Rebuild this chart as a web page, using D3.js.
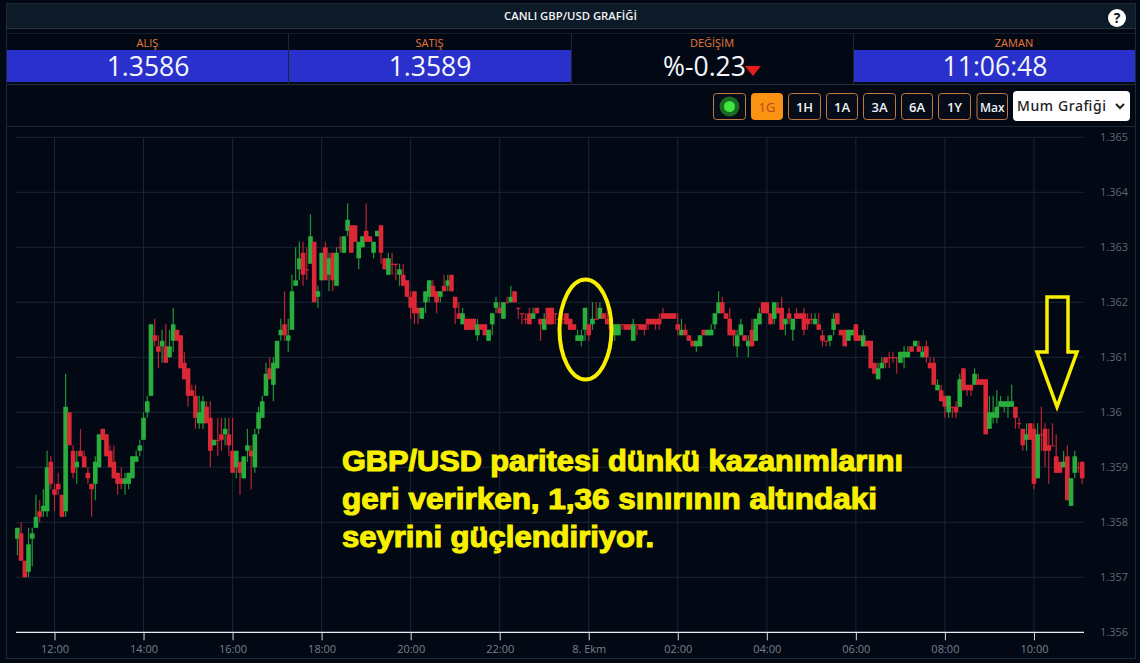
<!DOCTYPE html>
<html><head><meta charset="utf-8">
<script src="https://cdn.jsdelivr.net/npm/d3@7/dist/d3.min.js"></script>
<style>html,body{margin:0;padding:0;background:#020915;overflow:hidden}svg{display:block}</style>
</head><body><svg id="c" width="1140" height="663"></svg>
<script>
const opens=[1.3577,1.3578,1.3573,1.3571,1.3577,1.3579,1.3582,1.3582,1.3582,1.3591,
1.3586,1.3587,1.3585,1.3582,1.36,1.3593,1.359,1.3593,1.3592,1.3589,
1.3587,1.3587,1.359,1.3597,1.3596,1.3593,1.3591,1.3589,1.3588,1.3587,
1.3587,1.3588,1.3591,1.3593,1.3595,1.36,1.3603,1.3614,1.3612,1.3612,
1.3612,1.361,1.3613,1.3615,1.3614,1.3609,1.3608,1.3604,1.3603,1.3598,
1.3598,1.3601,1.3599,1.3594,1.3595,1.3596,1.3596,1.3596,1.3593,1.359,
1.3591,1.3588,1.3593,1.3593,1.359,1.3597,1.3599,1.3603,1.3608,1.3605,
1.3608,1.3614,1.3616,1.3613,1.3615,1.3623,1.3626,1.3629,1.3626,1.3627,
1.3631,1.3621,1.3624,1.363,1.3625,1.3629,1.3623,1.363,1.3629,1.3633,
1.3634,1.3634,1.3628,1.363,1.3633,1.3632,1.3629,1.3632,1.3634,1.3628,
1.3625,1.3627,1.3627,1.3625,1.3625,1.3624,1.3621,1.3622,1.3619,1.3617,
1.362,1.3621,1.3623,1.3622,1.3621,1.3623,1.3623,1.3625,1.3621,1.3618,
1.3616,1.3617,1.3617,1.3617,1.3614,1.3616,1.3616,1.3613,1.3616,1.3619,
1.3619,1.3617,1.362,1.362,1.3622,1.3619,1.3618,1.3617,1.3618,1.3617,
1.3619,1.3617,1.3615,1.3619,1.3619,1.3618,1.3617,1.3617,1.3618,1.3617,
1.3616,1.3613,1.3613,1.3615,1.3616,1.3616,1.3617,1.3617,1.3618,1.3617,
1.3616,1.3614,1.3614,1.3616,1.3616,1.3616,1.3613,1.3616,1.3616,1.3616,
1.3617,1.3617,1.3617,1.3617,1.3618,1.3618,1.3618,1.3618,1.3616,1.3614,
1.3615,1.3614,1.3613,1.3612,1.3612,1.3615,1.3614,1.3614,1.3616,1.3618,
1.362,1.3618,1.3617,1.3615,1.3612,1.3614,1.3614,1.3612,1.3615,1.3613,
1.3616,1.362,1.362,1.3618,1.3617,1.3619,1.3619,1.3616,1.3618,1.3615,
1.3618,1.3618,1.3618,1.3617,1.3617,1.3616,1.3616,1.3614,1.3613,1.3613,
1.3615,1.3618,1.3615,1.3615,1.3613,1.3614,1.3616,1.3614,1.3612,1.3613,
1.3613,1.3609,1.3606,1.3608,1.361,1.361,1.361,1.361,1.3609,1.361,
1.361,1.3612,1.3612,1.3612,1.361,1.3612,1.3609,1.3609,1.3604,1.3604,
1.3603,1.36,1.3601,1.3601,1.3601,1.3608,1.3605,1.3605,1.3605,1.3606,
1.3606,1.3606,1.3597,1.3599,1.3599,1.3601,1.3601,1.3601,1.3601,1.3601,
1.3598,1.3597,1.3595,1.3598,1.3597,1.3588,1.3596,1.3597,1.3594,1.3594,
1.3592,1.3591,1.359,1.3592,1.3583,1.3589,1.359,1.3591];
const closes=[1.3579,1.3573,1.357,1.3576,1.3578,1.3581,1.3581,1.3583,1.359,1.3587,
1.3585,1.3586,1.3581,1.3601,1.3594,1.3589,1.3591,1.3592,1.359,1.3588,
1.3586,1.3591,1.3596,1.3595,1.3592,1.359,1.3588,1.3587,1.3587,1.3588,
1.3589,1.3592,1.3592,1.3594,1.3599,1.3602,1.3616,1.3613,1.3611,1.3613,
1.3609,1.3612,1.3616,1.3613,1.3608,1.3606,1.3603,1.3603,1.3599,1.36,
1.3602,1.3598,1.3593,1.3595,1.3595,1.3595,1.3597,1.3594,1.3589,1.3593,
1.3589,1.3592,1.3594,1.3592,1.3596,1.36,1.3602,1.3607,1.3606,1.3609,
1.3613,1.3615,1.3614,1.3614,1.3622,1.3624,1.3628,1.3625,1.3626,1.3632,
1.362,1.3622,1.3629,1.3624,1.3628,1.3624,1.3629,1.363,1.3632,1.3635,
1.3629,1.3631,1.3631,1.3632,1.3631,1.3631,1.3631,1.3633,1.3629,1.3626,
1.3628,1.3627,1.3627,1.3626,1.3623,1.3621,1.3619,1.3618,1.3618,1.3619,
1.3622,1.3624,1.3621,1.362,1.3622,1.3622,1.3624,1.3622,1.3619,1.3617,
1.3618,1.3615,1.3615,1.3615,1.3616,1.3615,1.3614,1.3615,1.3618,1.362,
1.3618,1.362,1.362,1.3621,1.362,1.3619,1.3618,1.3617,1.3616,1.3618,
1.3618,1.3616,1.3617,1.3616,1.3616,1.3618,1.3617,1.3617,1.3616,1.3615,
1.3615,1.3614,1.3614,1.3619,1.3614,1.3617,1.3617,1.3619,1.3617,1.3616,
1.3615,1.3616,1.3616,1.3616,1.3615,1.3615,1.3616,1.3616,1.3615,1.3615,
1.3616,1.3616,1.3616,1.3616,1.3617,1.3617,1.3617,1.3617,1.3615,1.3615,
1.3614,1.3613,1.3612,1.3613,1.3614,1.3614,1.3615,1.3615,1.3618,1.362,
1.3618,1.3617,1.3614,1.3614,1.3614,1.3616,1.3613,1.3613,1.3612,1.3617,
1.3618,1.3618,1.3618,1.3616,1.362,1.3618,1.3615,1.3617,1.3617,1.3617,
1.3617,1.3617,1.3615,1.3616,1.3617,1.3617,1.3615,1.3613,1.3613,1.3614,
1.3617,1.3616,1.3614,1.3612,1.3615,1.3615,1.3613,1.3613,1.3614,1.3612,
1.3608,1.3607,1.3608,1.3609,1.3609,1.361,1.361,1.361,1.3611,1.3611,
1.3611,1.3611,1.3613,1.3611,1.3611,1.361,1.3608,1.3605,1.3605,1.3602,
1.3601,1.3603,1.3601,1.36,1.3606,1.3604,1.3604,1.3604,1.3607,1.3605,
1.3605,1.3596,1.36,1.36,1.3601,1.3602,1.3602,1.3602,1.3602,1.3599,
1.3598,1.3594,1.3596,1.3595,1.3587,1.3596,1.3596,1.3593,1.3593,1.3594,
1.3589,1.3589,1.3591,1.3584,1.3588,1.3592,1.359,1.3588];
const highs=[1.3579,1.358,1.3573,1.3579,1.3579,1.3585,1.3584,1.3586,1.3593,1.3592,
1.3587,1.3589,1.3585,1.3607,1.36,1.3594,1.3593,1.3597,1.3593,1.359,
1.3587,1.3592,1.3596,1.3597,1.3596,1.3594,1.3594,1.3589,1.359,1.3589,
1.3589,1.3592,1.3593,1.3595,1.36,1.3603,1.3616,1.3617,1.3614,1.3615,
1.3616,1.3615,1.3619,1.3615,1.3614,1.3611,1.3608,1.3605,1.3605,1.3603,
1.3603,1.3602,1.3602,1.3595,1.3599,1.3599,1.3599,1.3599,1.3599,1.3593,
1.3591,1.3592,1.3597,1.3594,1.3597,1.3601,1.3603,1.3609,1.361,1.361,
1.3613,1.3617,1.3622,1.3617,1.3625,1.363,1.3631,1.3631,1.363,1.3636,
1.3631,1.3623,1.3629,1.3631,1.3629,1.3629,1.363,1.3632,1.3632,1.3638,
1.3634,1.3634,1.3631,1.3632,1.3638,1.3632,1.3631,1.3633,1.3634,1.3628,
1.3629,1.3629,1.3627,1.3627,1.3627,1.3624,1.3622,1.3622,1.3619,1.3619,
1.3622,1.3624,1.3624,1.3622,1.3622,1.3625,1.3625,1.3625,1.3621,1.362,
1.3619,1.3617,1.3617,1.3617,1.3617,1.3616,1.3616,1.3615,1.3618,1.3621,
1.362,1.362,1.3621,1.3623,1.3622,1.3619,1.3618,1.3618,1.3619,1.3619,
1.3619,1.3617,1.3618,1.3619,1.3619,1.3618,1.3618,1.3618,1.3618,1.3617,
1.3616,1.3615,1.3615,1.3619,1.3616,1.362,1.362,1.362,1.3618,1.362,
1.3618,1.3616,1.3616,1.3616,1.3616,1.3616,1.3617,1.3616,1.3616,1.3616,
1.3617,1.3617,1.3617,1.3618,1.3619,1.3618,1.3618,1.3618,1.3618,1.3617,
1.3616,1.3614,1.3613,1.3613,1.3614,1.3615,1.3615,1.3616,1.3618,1.3622,
1.3621,1.3618,1.3619,1.3615,1.3615,1.3617,1.3614,1.3614,1.3617,1.3617,
1.3619,1.362,1.362,1.3618,1.362,1.362,1.3621,1.3617,1.3619,1.3617,
1.3619,1.3618,1.3619,1.3618,1.3618,1.3618,1.3618,1.3615,1.3613,1.3614,
1.3618,1.3618,1.3615,1.3615,1.3615,1.3615,1.3616,1.3614,1.3615,1.3613,
1.3613,1.3609,1.3609,1.361,1.361,1.3611,1.3611,1.361,1.3611,1.3612,
1.3612,1.3612,1.3613,1.3613,1.3612,1.3613,1.361,1.361,1.3606,1.3605,
1.3603,1.3603,1.3601,1.3602,1.3607,1.3608,1.3605,1.3605,1.3608,1.3607,
1.3606,1.3606,1.3603,1.3603,1.3604,1.3603,1.3602,1.3603,1.3605,1.3601,
1.3599,1.3597,1.3598,1.3598,1.3598,1.3598,1.3601,1.3598,1.3597,1.3598,
1.3596,1.3591,1.3593,1.3594,1.3588,1.3593,1.3591,1.3591];
const lows=[1.3574,1.3573,1.357,1.357,1.3572,1.3579,1.358,1.3581,1.3581,1.3586,
1.3582,1.3585,1.3581,1.3581,1.3594,1.3588,1.3587,1.3592,1.359,1.3587,
1.3581,1.3584,1.359,1.3595,1.3592,1.359,1.3588,1.3585,1.3586,1.3585,
1.3586,1.3588,1.3591,1.3592,1.3595,1.3599,1.3603,1.3612,1.3608,1.3609,
1.3609,1.361,1.3611,1.3613,1.3608,1.3606,1.3601,1.3603,1.3597,1.3597,
1.3597,1.3598,1.359,1.3594,1.3592,1.3593,1.3594,1.3592,1.3589,1.3588,
1.3585,1.3588,1.3591,1.3586,1.3589,1.3596,1.3599,1.3603,1.3606,1.3602,
1.3608,1.3613,1.3613,1.3611,1.3615,1.3623,1.3624,1.3623,1.3624,1.3627,
1.362,1.3619,1.3624,1.3624,1.3622,1.3622,1.3623,1.3629,1.3629,1.3632,
1.3629,1.3631,1.3626,1.363,1.3631,1.3631,1.3628,1.3632,1.3627,1.3626,
1.3625,1.3625,1.3624,1.3623,1.3623,1.3621,1.3617,1.3616,1.3616,1.3617,
1.3618,1.362,1.3621,1.3618,1.362,1.3622,1.3622,1.3622,1.3616,1.3617,
1.3616,1.3615,1.3615,1.3615,1.3613,1.3615,1.3614,1.3613,1.3614,1.3618,
1.3618,1.3617,1.362,1.362,1.362,1.3617,1.3616,1.3616,1.3616,1.3617,
1.3618,1.3613,1.3615,1.3616,1.3616,1.3616,1.3616,1.3616,1.3616,1.3615,
1.3615,1.3613,1.3612,1.3613,1.3613,1.3615,1.3617,1.3617,1.3617,1.3616,
1.3613,1.3613,1.3614,1.3615,1.3615,1.3615,1.3613,1.3614,1.3615,1.3614,
1.3615,1.3616,1.3615,1.3615,1.3617,1.3617,1.3617,1.3617,1.3614,1.3614,
1.3614,1.3613,1.3612,1.3611,1.3612,1.3614,1.3614,1.3614,1.3615,1.3618,
1.3618,1.3617,1.3614,1.3612,1.361,1.3614,1.3613,1.361,1.3612,1.3613,
1.3616,1.3618,1.3618,1.3616,1.3616,1.3618,1.3615,1.3614,1.3616,1.3613,
1.3617,1.3617,1.3614,1.3615,1.3616,1.3616,1.3615,1.3612,1.3612,1.3612,
1.3614,1.3616,1.3614,1.3612,1.3613,1.3614,1.3613,1.3613,1.3612,1.3612,
1.3608,1.3607,1.3606,1.3608,1.3608,1.3608,1.3609,1.3607,1.3609,1.3608,
1.361,1.3611,1.3612,1.3611,1.361,1.3609,1.3608,1.3605,1.3604,1.3602,
1.3599,1.3599,1.3599,1.3599,1.3601,1.3604,1.3603,1.3603,1.3605,1.3605,
1.3605,1.3596,1.3597,1.3598,1.3598,1.3601,1.36,1.3599,1.3601,1.3597,
1.3597,1.3593,1.3593,1.3595,1.3586,1.3588,1.3593,1.359,1.3587,1.3594,
1.3589,1.3589,1.359,1.3584,1.3583,1.3588,1.3589,1.3587];
const yTicks=[1.356,1.357,1.358,1.359,1.36,1.361,1.362,1.363,1.364,1.365];
const xTickHours=[12,14,16,18,20,22,24,26,28,30,32,34];
const xTickLabels=["12:00","14:00","16:00","18:00","20:00","22:00","8. Ekm","02:00","04:00","06:00","08:00","10:00"];
const statLabels=["ALIŞ","SATIŞ","DEĞİŞİM","ZAMAN"];
const statValues=["1.3586","1.3589","%-0.23","11:06:48"];
const rangeButtons=["1G","1H","1A","3A","6A","1Y","Max"];
const noteLines=["GBP/USD paritesi dünkü kazanımlarını","geri verirken, 1,36 sınırının altındaki","seyrini güçlendiriyor."];

const UI='"Open Sans","Noto Sans",sans-serif';
const svg=d3.select("#c");
const t0=new Date(2021,9,7,11,10);
const hourDate=h=>new Date(2021,9,7,h,0);
const x=d3.scaleTime().domain([t0,hourDate(12)]).range([17.4,54.5]);
const y=d3.scaleLinear().domain([1.356,1.365]).range([632.3,137.3]);
const candles=opens.map((o,i)=>({t:new Date(+t0+i*3e5),o,c:closes[i],h:highs[i],l:lows[i]}));

// header
svg.append("rect").attr("x",6.5).attr("y",3.5).attr("width",1129).attr("height",655).attr("fill","none").attr("stroke","#1c2a38");
svg.append("rect").attr("x",7).attr("y",4).attr("width",1128).attr("height",24).attr("fill","#0d1a27");
svg.append("line").attr("x1",6).attr("x2",1136).attr("y1",28.5).attr("y2",28.5).attr("stroke","#24333f");
svg.append("text").attr("x",570.5).attr("y",20).attr("text-anchor","middle").attr("fill","#f2f4f6")
  .style("font",`600 11.3px ${UI}`).text("CANLI GBP/USD GRAFİĞİ");
svg.append("circle").attr("cx",1117).attr("cy",18).attr("r",9).attr("fill","#fff");
svg.append("text").attr("x",1117).attr("y",23).attr("text-anchor","middle").attr("fill","#111")
  .style("font",`700 14px ${UI}`).text("?");

// stats
[[7,288,1],[289,571,1],[572,853,0],[854,1135,1]].forEach(([a,b,fill],i)=>{
  if(fill) svg.append("rect").attr("x",a).attr("y",50).attr("width",b-a).attr("height",32).attr("fill","#2a30cc");
  svg.append("text").attr("x",i==0?147.5:i==1?429.5:i==2?712:1014).attr("y",46.5).attr("text-anchor","middle").attr("fill","#e8793a")
    .style("font",`400 11px ${UI}`).text(statLabels[i]);
  svg.append("text").attr("x",i==0?148:i==1?430:i==2?704.5:995).attr("y",75.5).attr("text-anchor","middle").attr("fill","#f4f6fb")
    .style("font",`500 26.5px ${UI}`).text(statValues[i]);
});
svg.append("path").attr("d","M745,66H761L753,76Z").attr("fill","#e81c1c");
svg.append("line").attr("x1",7).attr("x2",1135).attr("y1",33.5).attr("y2",33.5).attr("stroke","#131f2c");
svg.append("line").attr("x1",7).attr("x2",1135).attr("y1",84.5).attr("y2",84.5).attr("stroke","#24303a");
svg.append("line").attr("x1",7).attr("x2",1135).attr("y1",126.5).attr("y2",126.5).attr("stroke","#1c2834");
[288.5,571.5,853.5].forEach(v=>svg.append("line").attr("x1",v).attr("x2",v).attr("y1",33).attr("y2",84).attr("stroke","#1c2834"));

// toolbar
const btnX=[[751,783],[788,821],[826,858],[863,896],[901,933],[938,971],[976.5,1008]];
svg.append("rect").attr("x",713.5).attr("y",93.5).attr("width",32).attr("height",26).attr("rx",3).attr("fill","#060d18").attr("stroke","#c07a40");
svg.append("circle").attr("cx",729.5).attr("cy",106.5).attr("r",10).attr("fill","#1b6a22");
svg.append("circle").attr("cx",729.5).attr("cy",106.5).attr("r",5.5).attr("fill","#3ee63e");
rangeButtons.forEach((b,i)=>{
  const [a,e]=btnX[i],on=i==0;
  svg.append("rect").attr("x",a+.5).attr("y",93.5).attr("width",e-a-1).attr("height",26).attr("rx",3)
    .attr("fill",on?"#fb9312":"#060d18").attr("stroke",on?"#fb9312":"#c07a40");
  svg.append("text").attr("x",(a+e)/2).attr("y",111.5).attr("text-anchor","middle").attr("fill",on?"#b8481a":"#eef1f5")
    .style("font",`${on?400:600} ${i==6?12:13}px ${UI}`).text(b);
});
svg.append("rect").attr("x",1013).attr("y",91).attr("width",117).attr("height",30).attr("rx",4).attr("fill","#fff");
svg.append("text").attr("x",1017).attr("y",111).attr("fill","#222").style("font",`500 14px "Noto Sans",sans-serif`).attr("textLength",89).text("Mum Grafiği");
svg.append("path").attr("d","M1116,104l4,4l4,-4").attr("fill","none").attr("stroke","#222").attr("stroke-width",2);

// grid and axes
const xTicks=xTickHours.map(hourDate);
const gridC="#1a2635";
svg.append("g").selectAll("line").data(xTicks).join("line")
  .attr("x1",d=>x(d)).attr("x2",d=>x(d)).attr("y1",y(1.365)).attr("y2",y(1.356)).attr("stroke",gridC);
svg.append("g").selectAll("line").data(yTicks).join("line")
  .attr("x1",16).attr("x2",1084).attr("y1",d=>y(d)).attr("y2",d=>y(d)).attr("stroke",gridC);

const xAxis=d3.axisBottom(x).tickValues(xTicks).tickSize(8).tickPadding(5)
  .tickFormat((d,i)=>xTickLabels[i]);
const gx=svg.append("g").attr("transform",`translate(0,${y(1.356)})`).call(xAxis);
gx.select(".domain").remove();
gx.append("line").attr("x1",16).attr("x2",1084).attr("stroke","#e8ecf0").attr("stroke-width",1.2);
gx.selectAll(".tick line").attr("stroke","#d8dde2");
gx.selectAll("text").attr("fill","#77808a").style("font",`400 11px ${UI}`);

const yAxis=d3.axisRight(y).tickValues(yTicks).tickSize(0).tickPadding(0).tickFormat(d=>String(+d.toFixed(3)));
const gy=svg.append("g").attr("transform","translate(1100,0)").call(yAxis);
gy.select(".domain").remove();
gy.selectAll("text").attr("fill","#5f6873").style("font",`400 11px ${UI}`);

// candles
const GREEN="#29ad3c",RED="#dc2836";
const col=d=>d.c>d.o?GREEN:RED;
svg.append("g").selectAll("line").data(candles).join("line")
  .attr("x1",d=>x(d.t)).attr("x2",d=>x(d.t)).attr("y1",d=>y(d.h)).attr("y2",d=>y(d.l))
  .attr("stroke",col).attr("stroke-width",1.2).attr("stroke-opacity",.85);
svg.append("g").selectAll("rect").data(candles).join("rect")
  .attr("x",d=>x(d.t)-2.3).attr("width",4.6)
  .attr("y",d=>y(Math.max(d.o,d.c)))
  .attr("height",d=>Math.max(1,Math.abs(y(d.o)-y(d.c))))
  .attr("fill",col);

// annotations
svg.append("ellipse").attr("cx",585.5).attr("cy",329.5).attr("rx",26).attr("ry",50)
  .attr("fill","none").attr("stroke","#f9f000").attr("stroke-width",4);
svg.append("path").attr("d","M1047,297H1068V352H1077L1057,407L1037,352H1047Z")
  .attr("fill","none").attr("stroke","#f9f000").attr("stroke-width",3.5).attr("stroke-linejoin","miter");
const noteY=[471,509,547],noteW=[561,535,312];
noteLines.forEach((l,i)=>{
  svg.append("text").attr("x",342).attr("y",noteY[i]).attr("fill","#f9f000").attr("stroke","#f9f000").attr("stroke-width",1.1)
    .attr("textLength",noteW[i]).attr("lengthAdjust","spacingAndGlyphs")
    .style("font",`700 29px "Liberation Sans",Arial,sans-serif`).text(l);
});
</script></body></html>
